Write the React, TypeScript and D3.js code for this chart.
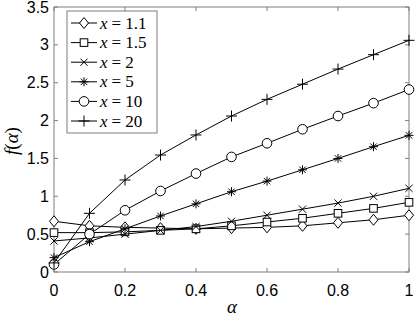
import React, { useEffect } from 'react';
import * as d3 from 'd3';

const alphas = [0, 0.1, 0.2, 0.3, 0.4, 0.5, 0.6, 0.7, 0.8, 0.9, 1];
const xTicks = [0, 0.2, 0.4, 0.6, 0.8, 1];
const yTicks = [0, 0.5, 1, 1.5, 2, 2.5, 3, 3.5];

const x11 = [0.67, 0.61, 0.59, 0.58, 0.57, 0.58, 0.59, 0.61, 0.65, 0.69, 0.75];
const x15 = [0.52, 0.52, 0.53, 0.55, 0.57, 0.61, 0.66, 0.71, 0.775, 0.84, 0.92];
const x2 = [0.41, 0.45, 0.5, 0.55, 0.6, 0.67, 0.75, 0.83, 0.91, 1.0, 1.105];
const x5 = [0.19, 0.4, 0.57, 0.74, 0.9, 1.06, 1.2, 1.35, 1.5, 1.655, 1.805];
const x10 = [0.1, 0.5, 0.815, 1.07, 1.3, 1.52, 1.7, 1.885, 2.06, 2.23, 2.41];
const x20 = [0.12, 0.775, 1.215, 1.545, 1.81, 2.06, 2.28, 2.48, 2.68, 2.87, 3.06];

const seriesNames = ['1.1', '1.5', '2', '5', '10', '20'];
const seriesValues = [x11, x15, x2, x5, x10, x20];
const seriesMarkers = ['diamond', 'square', 'cross', 'star', 'circle', 'plus'];

const W = 415, H = 317;
const left = 54, right = 409, top = 7, bottom = 272;

function Marker({ type, cx, cy }: { type: string; cx: number; cy: number }) {
  const st = { fill: 'none', stroke: '#000', strokeWidth: 1 };
  if (type === 'diamond') {
    return <path d={`M${cx},${cy - 5.5}L${cx + 4.5},${cy}L${cx},${cy + 5.5}L${cx - 4.5},${cy}Z`} {...st} fill="#fff" />;
  }
  if (type === 'square') {
    return <rect x={cx - 3.8} y={cy - 3.8} width={7.6} height={7.6} {...st} fill="#fff" />;
  }
  if (type === 'circle') {
    return <circle cx={cx} cy={cy} r={4.8} {...st} fill="#fff" />;
  }
  if (type === 'cross') {
    const s = 3.6;
    return <path d={`M${cx - s},${cy - s}L${cx + s},${cy + s}M${cx - s},${cy + s}L${cx + s},${cy - s}`} {...st} />;
  }
  if (type === 'plus') {
    const s = 5.5;
    return <path d={`M${cx - s},${cy}L${cx + s},${cy}M${cx},${cy - s}L${cx},${cy + s}`} {...st} />;
  }
  // star
  const s = 4.5, d = 3.2;
  return (
    <path
      d={`M${cx - s},${cy}L${cx + s},${cy}M${cx},${cy - s}L${cx},${cy + s}M${cx - d},${cy - d}L${cx + d},${cy + d}M${cx - d},${cy + d}L${cx + d},${cy - d}`}
      {...st}
    />
  );
}

export default function App() {
  useEffect(() => {
    document.body.style.margin = '0';
  }, []);

  const x = d3.scaleLinear().domain([0, 1]).range([left, right]);
  const y = d3.scaleLinear().domain([0, 3.5]).range([bottom, top]);
  const line = d3.line<number>().x((d, i) => x(alphas[i])).y(d => y(d));

  const axisColor = '#7f7f7f';
  const tickLen = 4;

  const legX = 67, legY = 11, legW = 90, legH = 122;
  const rowH = 19.6;

  return (
    <svg width={W} height={H} style={{ display: 'block', background: '#fff' }}>
      <rect x={0} y={0} width={W} height={H} fill="#fff" />
      <g fontFamily="Liberation Sans" fontSize={16}>
        {xTicks.map(t => (
          <g key={'xt' + t}>
            <line x1={x(t)} x2={x(t)} y1={bottom} y2={bottom - tickLen} stroke={axisColor} />
            <line x1={x(t)} x2={x(t)} y1={top} y2={top + tickLen} stroke={axisColor} />
            <text x={x(t)} y={296} textAnchor="middle">{t}</text>
          </g>
        ))}
        {yTicks.map(t => (
          <g key={'yt' + t}>
            <line x1={left} x2={left + tickLen} y1={y(t)} y2={y(t)} stroke={axisColor} />
            <line x1={right} x2={right - tickLen} y1={y(t)} y2={y(t)} stroke={axisColor} />
            <text x={49} y={y(t) + 5.5} textAnchor="end">{t}</text>
          </g>
        ))}
      </g>
      <rect x={left} y={top} width={right - left} height={bottom - top} fill="none" stroke={axisColor} />

      {seriesValues.map((vals, si) => (
        <g key={'s' + si}>
          <path d={line(vals) || ''} fill="none" stroke="#000" strokeWidth={1} />
          {vals.map((v, i) => (
            <Marker key={i} type={seriesMarkers[si]} cx={x(alphas[i])} cy={y(v)} />
          ))}
        </g>
      ))}

      <g fontFamily="serif">
        <text x={232} y={313} fontSize={19} fontStyle="italic" textAnchor="middle">α</text>
        <text transform="translate(18,141) rotate(-90)" fontSize={19} textAnchor="middle">
          <tspan fontStyle="italic">f</tspan>(<tspan fontStyle="italic">α</tspan>)
        </text>

        <rect x={legX} y={legY} width={legW} height={legH} fill="#fff" stroke={axisColor} />
        {seriesNames.map((n, i) => {
          const cy = legY + 12 + i * rowH;
          return (
            <g key={'l' + i}>
              <line x1={71} x2={97} y1={cy} y2={cy} stroke="#000" />
              <Marker type={seriesMarkers[i]} cx={84} cy={cy} />
              <text x={100} y={cy + 5.5} fontSize={17}>
                <tspan fontStyle="italic">x</tspan>
                <tspan dx={4}>=</tspan>
                <tspan dx={4}>{n}</tspan>
              </text>
            </g>
          );
        })}
      </g>
    </svg>
  );
}
